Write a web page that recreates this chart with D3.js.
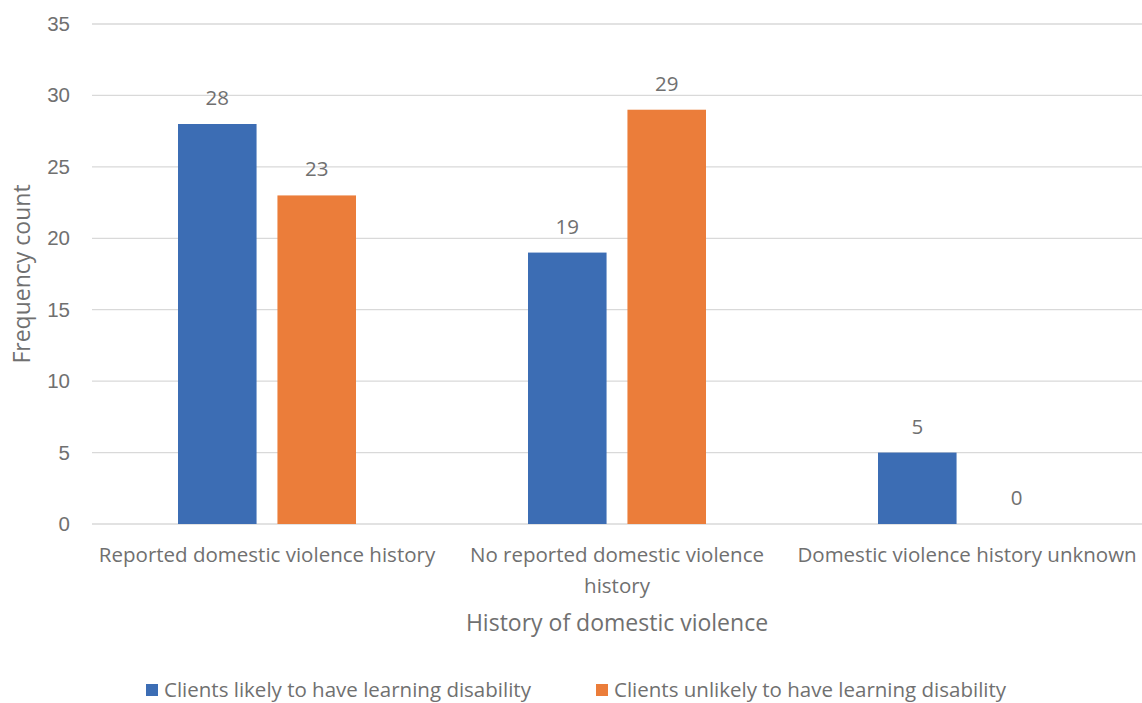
<!DOCTYPE html>
<html>
<head>
<meta charset="utf-8">
<script src="https://cdn.jsdelivr.net/npm/d3@7"></script>
<style>
  html, body { margin: 0; padding: 0; background: #fff; }
  svg { display: block; font-family: "Open Sans", "Liberation Sans", sans-serif; }
</style>
</head>
<body>
<svg id="chart" width="1142" height="703"></svg>
<script>
// Category labels (each entry is a list of wrapped lines)
const categories = [
  ["Reported domestic violence history"],
  ["No reported domestic violence", "history"],
  ["Domestic violence history unknown"]
];
const seriesNames = [
  "Clients likely to have learning disability",
  "Clients unlikely to have learning disability"
];
const likelyValues = [28, 19, 5];
const unlikelyValues = [23, 29, 0];
const yTicks = [0, 5, 10, 15, 20, 25, 30, 35];
const colors = ["#3C6DB4", "#EB7D3A"];

const svg = d3.select("#chart");
const margin = { left: 92, right: 0, top: 24, bottom: 179 };
const W = 1142, H = 703;
const plotW = W - margin.left - margin.right;
const plotH = H - margin.top - margin.bottom;
const textColor = "#707070";
const labelSize = "20.5px";

const g = svg.append("g").attr("transform", `translate(${margin.left},${margin.top})`);

const x0 = d3.scaleBand().domain(d3.range(categories.length)).range([0, plotW]).paddingInner(0).paddingOuter(0);
const x1 = d3.scaleBand().domain([0, 1]).range([86, 264]).paddingInner(0.21).paddingOuter(0);
const y = d3.scaleLinear().domain([0, 35]).range([plotH, 0]);

// Horizontal gridlines
g.append("g").selectAll("line").data(yTicks).join("line")
  .attr("x1", 0).attr("x2", plotW)
  .attr("y1", d => y(d)).attr("y2", d => y(d))
  .attr("stroke", "#d9d9d9").attr("stroke-width", 1.3);

// Y axis tick labels
const yAxis = d3.axisLeft(y).tickValues(yTicks).tickSize(0).tickPadding(22);
const ya = g.append("g").call(yAxis);
ya.select(".domain").remove();
ya.selectAll("text").attr("fill", textColor).style("font-size", labelSize).style("font-family", "inherit");

// Bars
const data = categories.map((c, i) => ({ i, vals: [likelyValues[i], unlikelyValues[i]] }));
const groups = g.selectAll(".grp").data(data).join("g")
  .attr("transform", d => `translate(${x0(d.i)},0)`);

groups.selectAll("rect").data(d => d.vals.map((v, s) => ({ v, s }))).join("rect")
  .attr("x", d => x1(d.s)).attr("width", x1.bandwidth())
  .attr("y", d => y(d.v)).attr("height", d => plotH - y(d.v))
  .attr("fill", d => colors[d.s]);

// Value labels
groups.selectAll("text.val").data(d => d.vals.map((v, s) => ({ v, s }))).join("text")
  .attr("class", "val")
  .attr("x", d => x1(d.s) + x1.bandwidth() / 2)
  .attr("y", d => y(d.v) - 19)
  .attr("text-anchor", "middle")
  .attr("fill", textColor)
  .style("font-size", labelSize)
  .text(d => d.v);

// Category labels
const catG = g.append("g").selectAll("text").data(categories).join("text")
  .attr("text-anchor", "middle")
  .attr("fill", textColor)
  .style("font-size", labelSize)
  .attr("transform", (d, i) => `translate(${x0(i) + x0.bandwidth() / 2},${plotH + 38})`);
catG.selectAll("tspan").data(d => d).join("tspan")
  .attr("x", 0).attr("dy", (d, j) => j === 0 ? 0 : 31).text(d => d);

// Axis titles
g.append("text").attr("x", plotW / 2 + 0).attr("y", plotH + 107)
  .attr("text-anchor", "middle").attr("fill", textColor).style("font-size", "23px")
  .text("History of domestic violence");

svg.append("text")
  .attr("transform", `translate(30,${margin.top + plotH / 2}) rotate(-90)`)
  .attr("text-anchor", "middle").attr("fill", textColor).style("font-size", "23px")
  .text("Frequency count");

// Legend
const legendX = [146, 596];
const leg = svg.append("g").selectAll("g").data(seriesNames).join("g")
  .attr("transform", (d, i) => `translate(${legendX[i]},684)`);
leg.append("rect").attr("width", 12).attr("height", 12).attr("fill", (d, i) => colors[i]);
leg.append("text").attr("x", 18).attr("y", 13).attr("fill", textColor)
  .style("font-size", labelSize).text(d => d);
</script>
</body>
</html>
